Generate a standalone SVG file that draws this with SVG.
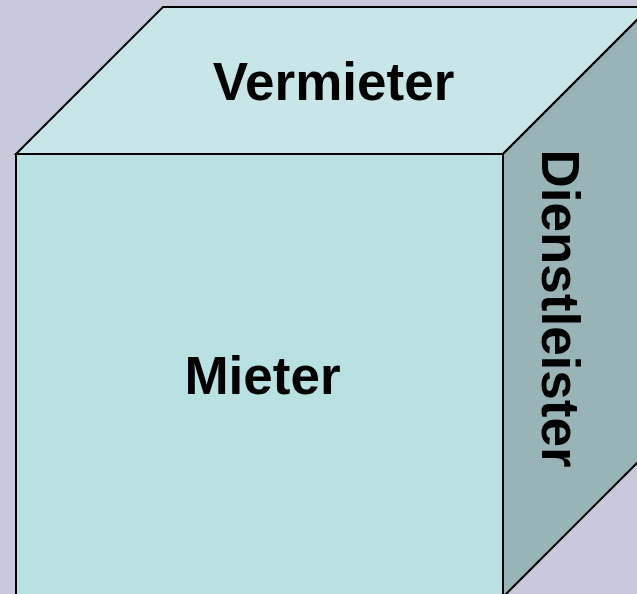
<svg xmlns="http://www.w3.org/2000/svg" width="637" height="594" viewBox="0 0 637 594">
<style>
.face{stroke:#000;stroke-width:2;stroke-linejoin:miter}
.lbl{font-family:"Liberation Sans",Arial,sans-serif;font-weight:bold;font-size:53px;fill:#000;text-anchor:middle}
</style>
<rect width="637" height="594" fill="#C8C9DB"/>
<g id="top">
<polygon class="face" points="16,154 163,7 650,7 503,154" fill="#C8E6E8"/>
<text class="lbl" x="333.5" y="99.5">Vermieter</text>
</g>
<g id="right">
<polygon class="face" points="503,154 650,7 650,450 503,597" fill="#98B4B6"/>
<text class="lbl" transform="translate(542,308.5) rotate(90)">Dienstleister</text>
</g>
<g id="front">
<rect class="face" x="16" y="154" width="487" height="450" fill="#B9E0E3"/>
<text class="lbl" x="262.5" y="393.5">Mieter</text>
</g>
</svg>
